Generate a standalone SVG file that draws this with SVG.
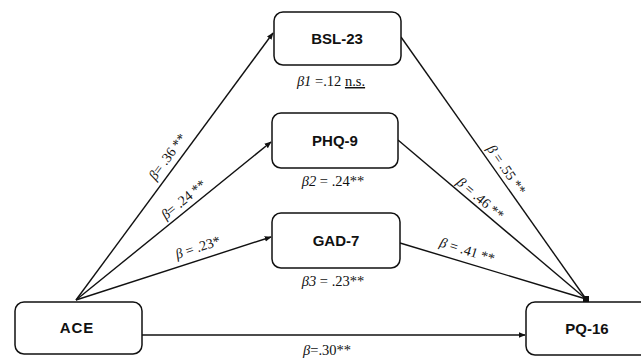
<svg xmlns="http://www.w3.org/2000/svg" width="641" height="359" viewBox="0 0 641 359">
<style>
.box{fill:#fff;stroke:#111;stroke-width:1.5}
.nl{font-family:"Liberation Sans",Arial,sans-serif;font-weight:bold;font-size:15px;fill:#111;text-anchor:middle}
.el{font-family:"Liberation Serif","Times New Roman",serif;font-size:14px;fill:#111;text-anchor:middle}
.sl{font-family:"Liberation Serif","Times New Roman",serif;font-size:14.5px;fill:#111;text-anchor:middle}
.b{font-style:italic}
.c{stroke:#111;stroke-width:1.4;fill:none}
</style>
<defs>
<marker id="ah" viewBox="0 0 10 10" refX="9" refY="5" markerWidth="7" markerHeight="7" markerUnits="userSpaceOnUse" orient="auto"><path d="M0,1 L10,5 L0,9 z" fill="#111"/></marker>
<marker id="sq" viewBox="0 0 10 10" refX="5" refY="5" markerWidth="6" markerHeight="6" markerUnits="userSpaceOnUse"><rect x="0" y="0" width="10" height="10" fill="#111"/></marker>
</defs>
<g id="connectors">
<line class="c" x1="76" y1="300" x2="273" y2="33" marker-end="url(#ah)"/>
<line class="c" x1="76" y1="300" x2="271" y2="142" marker-end="url(#ah)"/>
<line class="c" x1="76" y1="300" x2="271" y2="237" marker-end="url(#ah)"/>
<line class="c" x1="401" y1="37" x2="586" y2="299"/>
<line class="c" x1="398" y1="140" x2="586" y2="299"/>
<line class="c" x1="400" y1="243" x2="586" y2="299" marker-end="url(#sq)"/>
<line class="c" x1="142" y1="335" x2="525" y2="335" marker-end="url(#ah)" stroke-width="1.8"/>
<g transform="translate(168,157) rotate(-53.7)"><text class="el" x="0" y="4"><tspan class="b">β</tspan>= .36 **</text></g>
<g transform="translate(184,200) rotate(-39.6)"><text class="el" x="0" y="4"><tspan class="b">β</tspan>= .24 **</text></g>
<g transform="translate(198,248) rotate(-18.3)"><text class="el" x="0" y="4"><tspan class="b">β</tspan> = .23*</text></g>
<g transform="translate(506,170) rotate(55.4)"><text class="el" x="0" y="4"><tspan class="b">β</tspan> = .55 **</text></g>
<g transform="translate(480,199) rotate(40.7)"><text class="el" x="0" y="4"><tspan class="b">β</tspan> = .46 **</text></g>
<g transform="translate(467,251) rotate(17.6)"><text class="el" x="0" y="4"><tspan class="b">β</tspan> = .41 **</text></g>
<text class="sl" x="327" y="355"><tspan class="b">β</tspan>=.30**</text>
</g>
<g id="bsl">
<rect class="box" x="274" y="12" width="127" height="53" rx="9"/>
<text class="nl" x="337" y="44">BSL-23</text>
<text class="sl" x="331" y="86"><tspan class="b">β1</tspan> =.12 <tspan style="text-decoration:underline dotted">n.s.</tspan></text>
</g>
<g id="phq">
<rect class="box" x="272" y="113" width="126" height="55" rx="9"/>
<text class="nl" x="335" y="146">PHQ-9</text>
<text class="sl" x="333" y="186"><tspan class="b">β2</tspan> = .24**</text>
</g>
<g id="gad">
<rect class="box" x="272" y="213" width="128" height="55" rx="9"/>
<text class="nl" x="336" y="246">GAD-7</text>
<text class="sl" x="333" y="286"><tspan class="b">β3</tspan> = .23**</text>
</g>
<g id="ace">
<rect class="box" x="15" y="302" width="127" height="52" rx="9"/>
<text class="nl" x="77" y="333" letter-spacing="1">ACE</text>
</g>
<g id="pq16">
<rect class="box" x="526" y="302" width="124" height="53" rx="9"/>
<text class="nl" x="587" y="334">PQ-16</text>
</g>
</svg>
